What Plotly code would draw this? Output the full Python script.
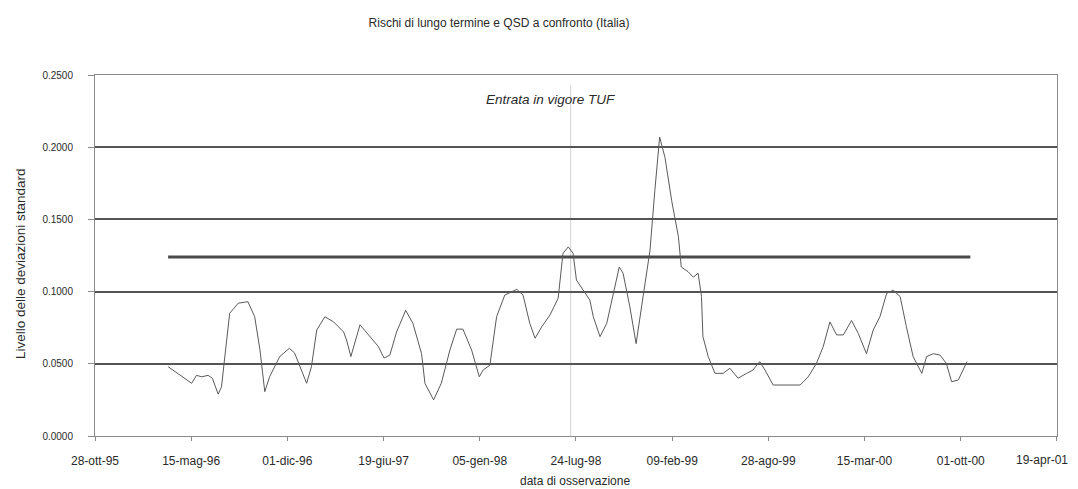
import plotly.graph_objects as go

# ---- data ----
dates = [
    "1996-03-28", "1996-05-16", "1996-05-26", "1996-06-06", "1996-06-19", "1996-06-28",
    "1996-07-10", "1996-07-17", "1996-08-03", "1996-08-21", "1996-09-10", "1996-09-24",
    "1996-10-05", "1996-10-15", "1996-10-25", "1996-11-15", "1996-12-05", "1996-12-16",
    "1997-01-10", "1997-01-20", "1997-01-31", "1997-02-17", "1997-03-07", "1997-03-28",
    "1997-04-03", "1997-04-12", "1997-05-01", "1997-05-22", "1997-06-08", "1997-06-20",
    "1997-07-02", "1997-07-16", "1997-08-04", "1997-08-19", "1997-09-06", "1997-09-13",
    "1997-10-01", "1997-10-17", "1997-11-04", "1997-11-18", "1997-12-01", "1997-12-19",
    "1998-01-04", "1998-01-12", "1998-01-26", "1998-02-09", "1998-02-26", "1998-03-23",
    "1998-04-05", "1998-04-19", "1998-04-30", "1998-05-14", "1998-05-31", "1998-06-17",
    "1998-06-27", "1998-07-08", "1998-07-18", "1998-07-25", "1998-08-08", "1998-08-22",
    "1998-08-29", "1998-09-12", "1998-09-26", "1998-10-09", "1998-10-22", "1998-10-30",
    "1998-11-13", "1998-11-26", "1998-12-07", "1998-12-25", "1999-01-04", "1999-01-14",
    "1999-01-25", "1999-02-08", "1999-02-22", "1999-02-28", "1999-03-14", "1999-03-25",
    "1999-04-04", "1999-04-11", "1999-04-14", "1999-04-25", "1999-05-09", "1999-05-26",
    "1999-06-09", "1999-06-26", "1999-07-14", "1999-07-27", "1999-08-10", "1999-08-21",
    "1999-09-07", "1999-09-28", "1999-10-19", "1999-11-02", "1999-11-19", "1999-12-06",
    "1999-12-20", "2000-01-03", "2000-01-17", "2000-01-31", "2000-02-17", "2000-03-02",
    "2000-03-19", "2000-04-02", "2000-04-16", "2000-04-30", "2000-05-14", "2000-05-28",
    "2000-06-10", "2000-06-24", "2000-07-12", "2000-07-22", "2000-08-05", "2000-08-19",
    "2000-09-01", "2000-09-12", "2000-09-26", "2000-10-14",
]
values = [
    0.0480, 0.0365, 0.0420, 0.0410, 0.0420, 0.0400,
    0.0290, 0.0340, 0.0850, 0.0920, 0.0930, 0.0826,
    0.0596, 0.0307, 0.0410, 0.0550, 0.0607, 0.0575,
    0.0365, 0.0480, 0.0734, 0.0826, 0.0790, 0.0720,
    0.0665, 0.0550, 0.0770, 0.0690, 0.0620, 0.0540,
    0.0560, 0.0720, 0.0870, 0.0780, 0.0570, 0.0365,
    0.0250, 0.0365, 0.0596, 0.0740, 0.0740, 0.0596,
    0.0410, 0.0457, 0.0490, 0.0826, 0.0976, 0.1016,
    0.0976, 0.0780, 0.0677, 0.0757, 0.0838, 0.0954,
    0.1265, 0.1310, 0.1265, 0.1080, 0.1010, 0.0940,
    0.0826, 0.0688, 0.0780, 0.0965, 0.1170, 0.1127,
    0.0895, 0.0640, 0.0895, 0.1288, 0.1700, 0.2070,
    0.1930, 0.1630, 0.1380, 0.1170, 0.1138, 0.1100,
    0.1127, 0.0965, 0.0688, 0.0550, 0.0434, 0.0434,
    0.0469, 0.0400, 0.0434, 0.0457, 0.0515, 0.0457,
    0.0353, 0.0353, 0.0353, 0.0353, 0.0410, 0.0503,
    0.0618, 0.0790, 0.0700, 0.0700, 0.0800, 0.0710,
    0.0570, 0.0734, 0.0826, 0.0988, 0.1010, 0.0965,
    0.0757, 0.0550, 0.0434, 0.0550, 0.0570, 0.0560,
    0.0503, 0.0376, 0.0388, 0.0515,
]

threshold_dates = ["1996-03-28", "2000-10-21"]
threshold_values = [0.124, 0.124]

tuf_date = "1998-07-13"

x_tick_dates = ["1995-10-28", "1996-05-15", "1996-12-01", "1997-06-19", "1998-01-05",
                "1998-07-24", "1999-02-09", "1999-08-28", "2000-03-15", "2000-10-01",
                "2001-04-19"]
x_tick_text = ["28-ott-95", "15-mag-96", "01-dic-96", "19-giu-97", "05-gen-98",
               "24-lug-98", "09-feb-99", "28-ago-99", "15-mar-00", "01-ott-00",
               "19-apr-01"]
y_ticks = [0.0, 0.05, 0.10, 0.15, 0.20, 0.25]

title_text = "Rischi di lungo termine e QSD a confronto (Italia)"
y_title = "Livello delle deviazioni standard"
x_title = "data di osservazione"
tuf_label = "Entrata in vigore TUF"

FONT = "Liberation Sans, Arial, sans-serif"
TXT = "#2a2a2a"

# the last label sits pulled inward (as in the original) so it fits on the page:
# its tick keeps an empty label and the text is drawn right-aligned at that tick
tick_text_shown = list(x_tick_text[:-1]) + [""]

fig = go.Figure()

fig.add_trace(go.Scatter(
    x=threshold_dates, y=threshold_values, mode="lines",
    line=dict(color="#4a4a4a", width=3), showlegend=False, hoverinfo="skip",
))
fig.add_trace(go.Scatter(
    x=dates, y=values, mode="lines",
    line=dict(color="#5a5a5a", width=1), showlegend=False,
))

fig.add_shape(type="line", xref="x", yref="y", x0=tuf_date, x1=tuf_date,
              y0=0, y1=0.243, line=dict(color="#d0d0d0", width=1), layer="below")

fig.add_annotation(x=0.473, xref="paper", y=0.2327, yref="y", text="<i>" + tuf_label + "</i>",
                   showarrow=False, font=dict(family=FONT, size=13.5, color=TXT),
                   xanchor="center", yanchor="middle")

fig.add_annotation(x=-75 / 962, xref="paper", y=(436 - 264) / 361, yref="paper", text=y_title,
                   showarrow=False, textangle=-90, font=dict(family=FONT, size=13.5, color=TXT),
                   xanchor="center", yanchor="middle")

fig.add_annotation(x=(575 - 95) / 962, xref="paper", y=-45 / 361, yref="paper",
                   text=x_title, showarrow=False,
                   font=dict(family=FONT, size=12, color=TXT),
                   xanchor="center", yanchor="middle")

fig.add_annotation(x=x_tick_dates[-1], xref="x", y=-24 / 361, yref="paper",
                   text=x_tick_text[-1], showarrow=False, xshift=13,
                   font=dict(family=FONT, size=12, color=TXT),
                   xanchor="right", yanchor="middle")

fig.update_layout(
    width=1078, height=489,
    margin=dict(l=95, r=21, t=75, b=53, autoexpand=False),
    paper_bgcolor="white", plot_bgcolor="white",
    font=dict(family=FONT, size=10, color=TXT),
    title=dict(text=title_text, x=499 / 1078, xref="container", xanchor="center",
               y=1 - 23 / 489, yref="container", yanchor="middle",
               font=dict(family=FONT, size=12, color=TXT)),
    showlegend=False,
)

fig.update_xaxes(
    type="date", range=["1995-10-28", "2001-04-19 04:00"],
    tickvals=x_tick_dates, ticktext=tick_text_shown, automargin=False,
    showgrid=False, showline=True, linecolor="#8a8a8a", linewidth=1, mirror=True,
    ticks="outside", ticklen=4, tickcolor="#8a8a8a", ticklabelstandoff=10,
    tickfont=dict(family=FONT, size=12, color=TXT), zeroline=False,
)
fig.update_yaxes(
    range=[0, 0.25], tickvals=y_ticks, tickformat=".4f", automargin=False,
    showgrid=True, gridcolor="#555555", gridwidth=1.5,
    showline=True, linecolor="#8a8a8a", linewidth=1, mirror=True,
    ticks="outside", ticklen=6, tickcolor="#8a8a8a", ticklabelstandoff=13,
    tickfont=dict(family=FONT, size=10, color=TXT), zeroline=False,
)

fig.write_html("out.html")
